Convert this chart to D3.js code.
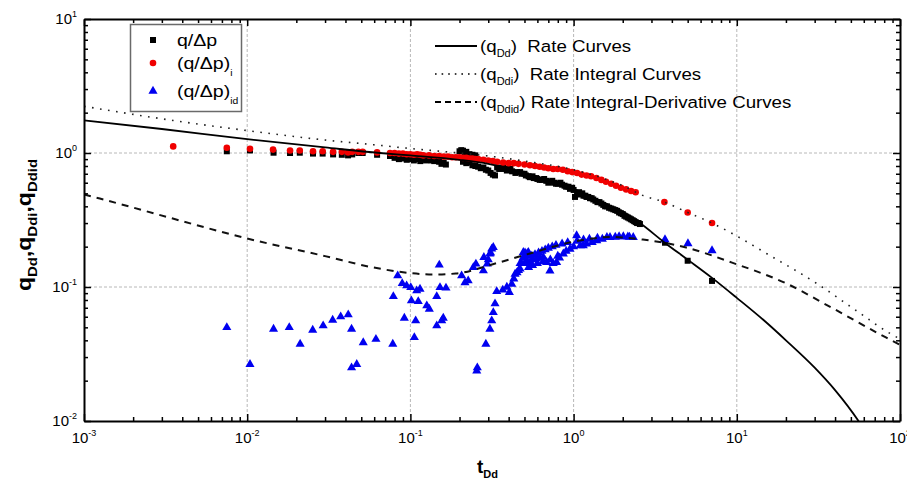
<!DOCTYPE html>
<html>
<head>
<meta charset="utf-8">
<script src="https://cdn.jsdelivr.net/npm/d3@7"></script>
<style>
body { margin: 0; background: #fff; }
svg { display: block; font-family: "Liberation Sans", Arial, sans-serif; }
.keep { white-space: pre; }
</style>
</head>
<body>
<div id="viz"></div>
<script>
// values, [tDd, q]
var blackPoints = [
  [0.0075,1.03],[0.0104,1.045],[0.0145,1.005],[0.0183,1.0],[0.021,1.005],[0.0253,0.99],[0.029,0.99],
  [0.0336,0.976],[0.038,0.97],[0.0415,0.96],[0.044,0.976],[0.048,1.0],[0.051,1.0],[0.0625,0.97],
  [0.075,0.95],[0.08,0.92],[0.085,0.9],[0.09,0.91],[0.095,0.89],[0.1,0.9],[0.105,0.88],[0.11,0.9],
  [0.115,0.87],[0.12,0.89],[0.125,0.88],[0.13,0.9],[0.135,0.88],[0.14,0.87],[0.15,0.86],[0.155,0.83],
  [0.16,0.85],[0.165,0.82],
  [0.2,1.03],[0.205,1.05],[0.21,1.04],[0.215,1.0],[0.22,1.02],[0.23,0.98],[0.24,0.97],[0.25,0.96],
  [0.21,0.86],[0.22,0.84],[0.23,0.85],[0.24,0.81],[0.25,0.8],[0.26,0.79],[0.27,0.77],[0.28,0.78],
  [0.29,0.75],[0.3,0.74],[0.31,0.71],[0.32,0.69],[0.33,0.68],
  [0.34,0.78],[0.35,0.76],[0.36,0.77],[0.37,0.78],[0.38,0.76],[0.39,0.74],[0.4,0.75],[0.41,0.76],
  [0.42,0.73],[0.44,0.71],[0.45,0.72],[0.47,0.72],[0.48,0.7],[0.5,0.7],[0.51,0.68],[0.53,0.67],
  [0.54,0.66],[0.56,0.67],[0.57,0.65],[0.59,0.65],[0.6,0.64],[0.62,0.63],[0.64,0.63],[0.66,0.64],
  [0.68,0.62],[0.7,0.6],[0.72,0.61],[0.74,0.62],[0.76,0.6],[0.78,0.59],[0.8,0.59],[0.83,0.6],
  [0.85,0.58],[0.88,0.57],[0.9,0.56],[0.93,0.56],[0.95,0.54],[0.98,0.55],[1.0,0.53],[1.02,0.47],
  [1.05,0.5],[1.08,0.51],[1.1,0.49],[1.13,0.5],[1.15,0.48],[1.18,0.48],[1.2,0.47],[1.23,0.47],
  [1.26,0.46],[1.29,0.46],[1.32,0.45],[1.36,0.44],[1.4,0.43],[1.44,0.43],[1.48,0.42],[1.52,0.41],
  [1.56,0.4],[1.6,0.4],[1.65,0.39],[1.7,0.385],[1.75,0.38],[1.8,0.375],[1.85,0.37],[1.9,0.36],
  [1.95,0.355],[2.0,0.35],[2.05,0.34],[2.1,0.335],[2.15,0.33],[2.2,0.325],[2.25,0.32],[2.3,0.315],
  [2.35,0.31],[2.4,0.305],[2.45,0.3],[2.5,0.3],[2.55,0.295],
  [3.63,0.214],[5.0,0.157],[7.05,0.111]
]

var redPoints = [
  [0.00352,1.12],[0.0075,1.095],[0.0104,1.077],[0.0144,1.06],[0.0183,1.045],[0.021,1.045],
  [0.0253,1.03],[0.029,1.03],[0.0336,1.02],[0.038,1.02],[0.0415,1.01],[0.044,1.02],[0.048,1.02],
  [0.051,1.02],[0.0625,1.01],
  [0.075,1.0],[0.08,1.0],[0.085,0.99],[0.09,0.99],[0.095,0.98],[0.1,0.98],[0.105,0.97],[0.11,0.98],
  [0.115,0.97],[0.12,0.96],[0.13,0.96],[0.14,0.95],[0.15,0.95],[0.16,0.94],[0.17,0.94],[0.18,0.93],
  [0.19,0.93],[0.2,0.93],[0.21,0.92],[0.22,0.92],[0.23,0.91],[0.24,0.91],[0.25,0.9],[0.26,0.9],
  [0.28,0.89],[0.3,0.88],[0.32,0.87],[0.34,0.86],[0.37,0.85],[0.4,0.84],[0.43,0.84],[0.46,0.83],
  [0.5,0.82],[0.54,0.81],[0.58,0.8],[0.62,0.79],[0.66,0.78],[0.7,0.77],[0.75,0.76],[0.8,0.76],
  [0.86,0.75],[0.92,0.73],[0.98,0.72],[1.05,0.71],[1.12,0.69],[1.2,0.68],[1.28,0.67],[1.38,0.65],
  [1.48,0.63],[1.58,0.61],[1.7,0.59],[1.82,0.57],[1.95,0.55],[2.1,0.535],[2.25,0.52],[2.4,0.51],
  [3.6,0.43],[5.0,0.36],[7.05,0.3]
]

var bluePoints = [
  [0.0075,0.0499],[0.0104,0.0265],[0.0145,0.0485],[0.0181,0.0499],[0.0211,0.0375],[0.0252,0.0477],
  [0.0292,0.0514],[0.0334,0.0567],[0.0374,0.06],[0.0416,0.0621],[0.0436,0.0485],[0.0436,0.025],
  [0.0469,0.0265],[0.0514,0.0385],[0.0615,0.0408],[0.078,0.0375],[0.0786,0.0851],[0.0836,0.1215],
  [0.0891,0.1064],[0.0918,0.0586],[0.0948,0.1023],[0.1005,0.0993],[0.1014,0.079],[0.1057,0.042],
  [0.1077,0.056],[0.1093,0.0938],[0.1117,0.078],[0.1145,0.0966],[0.126,0.0725],[0.1306,0.0684],
  [0.145,0.0514],[0.145,0.0851],[0.1503,0.146],[0.1518,0.0993],[0.1556,0.056],[0.159,0.0586],
  [0.1652,0.0984],[0.206,0.1215],[0.216,0.108],[0.226,0.1114],[0.243,0.14],[0.252,0.1486],
  [0.28,0.1324],[0.282,0.1665],[0.296,0.1486],[0.3,0.16],[0.307,0.1766],[0.31,0.18],[0.315,0.1924],
  [0.322,0.1978],
  [0.255,0.0237],[0.257,0.025],[0.29,0.0375],[0.307,0.0485],[0.315,0.056],[0.322,0.0646],
  [0.33,0.075],[0.338,0.0927],
  [0.368,0.095],[0.39,0.1],[0.404,0.0912],[0.418,0.1052],[0.43,0.115],[0.438,0.125],[0.45,0.128],
  [0.46,0.133],[0.47,0.1364],[0.48,0.15],[0.492,0.1815],[0.49,0.165],[0.5,0.17],[0.51,0.175],
  [0.52,0.178],[0.528,0.1815],
  [0.47,0.15],[0.5,0.15],[0.504,0.18],[0.52,0.155],[0.53,0.14],[0.541,0.153],[0.55,0.17],[0.56,0.16],
  [0.56,0.145],[0.58,0.175],[0.594,0.162],[0.6,0.15],[0.61,0.18],[0.62,0.165],[0.64,0.185],
  [0.652,0.167],[0.65,0.155],[0.67,0.19],[0.684,0.153],[0.7,0.195],[0.716,0.132],[0.72,0.16],
  [0.74,0.2],[0.75,0.15],[0.78,0.205],[0.787,0.153],[0.8,0.17],[0.82,0.165],[0.85,0.21],
  [0.865,0.177],[0.9,0.185],[0.92,0.215],[0.95,0.192],[1.0,0.2],[1.044,0.242],[1.05,0.22],
  [1.1,0.204],[1.146,0.204],[1.15,0.225],[1.2,0.21],[1.25,0.228],[1.3,0.215],[1.387,0.222],
  [1.4,0.232],[1.5,0.228],[1.6,0.235],[1.671,0.235],[1.8,0.236],[1.9,0.238],[2.017,0.238],
  [2.15,0.237],[2.2,0.236],[2.32,0.235],
  [3.63,0.226],[5.02,0.211],[7.05,0.187]
]

var rateCurve = [
  [0.001,1.75],[0.003,1.51],[0.01,1.27],[0.03,1.1],[0.065,1.0],[0.1,0.96],[0.2,0.89],[0.3,0.83],
  [0.5,0.71],[0.7,0.62],[1.0,0.54],[1.5,0.43],[2.0,0.365],[2.55,0.3],[3.6,0.215],[5,0.16],
  [7.05,0.117],[10,0.083],[15,0.055],[20,0.04],[30,0.025],[40,0.017],[55,0.0102],[70,0.0063]
]

var integralCurve = [
  [0.001,2.23],[0.0035,1.75],[0.01,1.47],[0.03,1.25],[0.065,1.14],[0.1,1.08],[0.2,1.0],[0.3,0.95],
  [0.5,0.87],[1,0.75],[1.5,0.65],[2,0.57],[2.68,0.48],[3.6,0.43],[5,0.36],[7.05,0.3],[10,0.24],
  [15.3,0.177],[31,0.106],[54.6,0.066],[86.9,0.045],[100,0.041]
]

var derivCurve = [
  [0.001,0.49],[0.00125,0.457],[0.0035,0.324],[0.01,0.23],[0.03,0.17],[0.059,0.14],[0.1,0.127],
  [0.137,0.124],[0.19,0.126],[0.32,0.148],[0.54,0.178],[1.0,0.218],[1.7,0.236],[2.66,0.226],
  [4.9,0.197],[9.35,0.152],[20.2,0.106],[38.2,0.07],[82,0.042],[100,0.037]
]

var xTickExps = [-3, -2, -1, 0, 1, 2]
var yTickExps = [-2, -1, 0, 1]

var width = 907, height = 489
var plotLeft = 84, plotRight = 900, plotTop = 19, plotBottom = 421

var x = d3.scaleLog().domain([1e-3, 1e2]).range([plotLeft, plotRight])
var y = d3.scaleLog().domain([1e-2, 1e1]).range([plotBottom, plotTop])

var svg = d3.select("#viz").append("svg").attr("width", width).attr("height", height)

svg.append("clipPath").attr("id", "clip")
  .append("rect").attr("x", plotLeft).attr("y", plotTop)
  .attr("width", plotRight - plotLeft).attr("height", plotBottom - plotTop)

function minors(exps) {
  var out = []
  for (var i = 0; i < exps.length - 1; i++) {
    for (var m = 2; m <= 9; m++) out.push(m * Math.pow(10, exps[i]))
  }
  return out
}
var xMajor = xTickExps.map(function(e) { return Math.pow(10, e) })
var yMajor = yTickExps.map(function(e) { return Math.pow(10, e) })

// grid
var grid = svg.append("g").attr("stroke", "#b8b8b8").attr("stroke-width", 1).attr("stroke-dasharray", "3,2")
grid.selectAll(".gx").data(xMajor.slice(1, -1)).enter().append("line")
  .attr("x1", function(d) { return x(d) }).attr("x2", function(d) { return x(d) })
  .attr("y1", plotTop).attr("y2", plotBottom)
grid.selectAll(".gy").data(yMajor.slice(1, -1)).enter().append("line")
  .attr("y1", function(d) { return y(d) }).attr("y2", function(d) { return y(d) })
  .attr("x1", plotLeft).attr("x2", plotRight)

var line = d3.line()
  .x(function(d) { return x(d[0]) })
  .y(function(d) { return y(d[1]) })
  .curve(d3.curveMonotoneX)

var plot = svg.append("g").attr("clip-path", "url(#clip)")

// points
plot.selectAll(".blk").data(blackPoints).enter().append("path")
  .attr("d", d3.symbol(d3.symbolSquare, 36))
  .attr("transform", function(d) { return "translate(" + x(d[0]) + "," + y(d[1]) + ")" })
  .attr("fill", "#000")
plot.selectAll(".red").data(redPoints).enter().append("circle")
  .attr("cx", function(d) { return x(d[0]) })
  .attr("cy", function(d) { return y(d[1]) })
  .attr("r", 3.3).attr("fill", "#f00000")
plot.selectAll(".blu").data(bluePoints).enter().append("path")
  .attr("d", d3.symbol(d3.symbolTriangle, 36))
  .attr("transform", function(d) { return "translate(" + x(d[0]) + "," + y(d[1]) + ")" })
  .attr("fill", "#0000f0")

// curves
plot.append("path").datum(rateCurve).attr("d", line)
  .attr("fill", "none").attr("stroke", "#000").attr("stroke-width", 1.8)
plot.append("path").datum(integralCurve).attr("d", line)
  .attr("fill", "none").attr("stroke", "#222").attr("stroke-width", 1.6)
  .attr("stroke-dasharray", "1.6,6.5")
plot.append("path").datum(derivCurve).attr("d", line)
  .attr("fill", "none").attr("stroke", "#111").attr("stroke-width", 2)
  .attr("stroke-dasharray", "7,6")

// axes, ticks inward on all four sides
function drawAxis(axisFn, scale, majors, minorVals, tx, ty) {
  var g1 = svg.append("g").attr("transform", "translate(" + tx + "," + ty + ")")
    .call(axisFn(scale).tickValues(majors).tickSize(-7).tickSizeOuter(0).tickFormat(""))
  var g2 = svg.append("g").attr("transform", "translate(" + tx + "," + ty + ")")
    .call(axisFn(scale).tickValues(minorVals).tickSize(-4).tickSizeOuter(0).tickFormat(""))
  g2.select(".domain").remove()
  ;[g1, g2].forEach(function(g) {
    g.selectAll("line").attr("stroke", "#000").attr("stroke-width", 1.5)
    g.select(".domain").attr("stroke", "#000").attr("stroke-width", 2)
  })
}
drawAxis(d3.axisBottom, x, xMajor, minors(xTickExps), 0, plotBottom)
drawAxis(d3.axisTop, x, xMajor, minors(xTickExps), 0, plotTop)
drawAxis(d3.axisLeft, y, yMajor, minors(yTickExps), plotLeft, 0)
drawAxis(d3.axisRight, y, yMajor, minors(yTickExps), plotRight, 0)

// tick labels with superscripts
svg.selectAll(".xl").data(xTickExps).enter().append("text")
  .attr("x", function(d) { return x(Math.pow(10, d)) })
  .attr("y", 443)
  .attr("text-anchor", "middle")
  .attr("font-size", 15)
  .each(function(d) {
    var t = d3.select(this)
    t.append("tspan").text("10")
    t.append("tspan").attr("font-size", 9).attr("dy", -7).text(d)
  })
svg.selectAll(".yl").data(yTickExps).enter().append("text")
  .attr("x", 77)
  .attr("y", function(d) { return y(Math.pow(10, d)) + 5 })
  .attr("text-anchor", "end")
  .attr("font-size", 15)
  .each(function(d) {
    var t = d3.select(this)
    t.append("tspan").text("10")
    t.append("tspan").attr("font-size", 9).attr("dy", -7).text(d)
  })

// axis titles
var xt = svg.append("text").attr("x", 477).attr("y", 473).attr("font-size", 19).attr("font-weight", "bold")
xt.append("tspan").text("t")
xt.append("tspan").attr("font-size", 11).attr("dy", 5).text("Dd")

var yt = svg.append("text").attr("transform", "translate(31,225) rotate(-90) scale(1.15,1)")
  .attr("text-anchor", "middle").attr("font-size", 20).attr("font-weight", "bold")
;[["q", "Dd", ","], ["q", "Ddi", ","], ["q", "Ddid", ""]].forEach(function(p) {
  yt.append("tspan").text(p[0])
  yt.append("tspan").attr("font-size", 13).attr("dy", 6).text(p[1])
  if (p[2]) yt.append("tspan").attr("dy", -6).text(p[2])
})

// legend 1: markers
var lg1 = svg.append("g")
lg1.append("rect").attr("x", 130.5).attr("y", 24.5).attr("width", 111).attr("height", 87)
  .attr("fill", "#fff").attr("stroke", "#6a6a6a").attr("stroke-width", 1.5)
var markerRows = [
  {label: "q/\u0394p", sub: "", yy: 40},
  {label: "(q/\u0394p)", sub: "i", yy: 63},
  {label: "(q/\u0394p)", sub: "id", yy: 91}
]
lg1.append("path").attr("d", d3.symbol(d3.symbolSquare, 36))
  .attr("transform", "translate(153," + markerRows[0].yy + ")").attr("fill", "#000")
lg1.append("circle").attr("cx", 153).attr("cy", markerRows[1].yy).attr("r", 3.3).attr("fill", "#f00000")
lg1.append("path").attr("d", d3.symbol(d3.symbolTriangle, 36))
  .attr("transform", "translate(153," + markerRows[2].yy + ")").attr("fill", "#0000f0")
markerRows.forEach(function(r) {
  var t = lg1.append("text").attr("transform", "translate(177," + (r.yy + 6) + ") scale(1.15,1)")
    .attr("font-size", 17)
  t.append("tspan").text(r.label)
  if (r.sub) t.append("tspan").attr("font-size", 9).attr("dy", 7).text(r.sub)
})

// legend 2: curves
var lineRows = [
  {sub: "Dd", rest: ")  Rate Curves", dash: null, yy: 46},
  {sub: "Ddi", rest: ")  Rate Integral Curves", dash: "1.6,5", yy: 74},
  {sub: "Ddid", rest: ") Rate Integral-Derivative Curves", dash: "6,4", yy: 102}
]
var lg2 = svg.append("g")
lineRows.forEach(function(r) {
  lg2.append("line").attr("x1", 435).attr("x2", 477).attr("y1", r.yy).attr("y2", r.yy)
    .attr("stroke", "#000").attr("stroke-width", r.dash === "1.6,5" ? 1.5 : 1.8)
    .attr("stroke-dasharray", r.dash)
  var t = lg2.append("text").attr("class", "keep")
    .attr("transform", "translate(480," + (r.yy + 6) + ") scale(1.1,1)")
    .attr("font-size", 17)
  t.append("tspan").text("(q")
  t.append("tspan").attr("font-size", 10).attr("dy", 5).text(r.sub)
  t.append("tspan").attr("dy", -5).text(r.rest)
})
</script>
</body>
</html>
